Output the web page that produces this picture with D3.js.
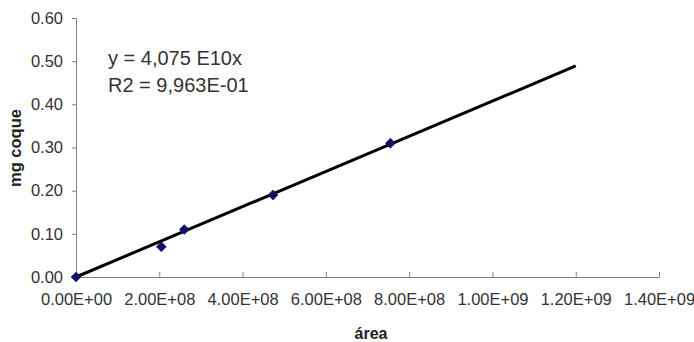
<!DOCTYPE html>
<html><head><meta charset="utf-8">
<script src="https://cdn.jsdelivr.net/npm/d3@7"></script>
<style>body{margin:0;background:#fff}text{font-family:"Liberation Sans",Arial,sans-serif}</style>
</head><body><svg id="c" width="694" height="342"></svg>
<script>
const areaValues = [0, 2.05e8, 2.6e8, 4.73e8, 7.55e8];
const mgValues = [0, 0.07, 0.11, 0.19, 0.31];
const xTicks = [0, 2e8, 4e8, 6e8, 8e8, 1e9, 1.2e9, 1.4e9];
const xTickLabels = ["0.00E+00","2.00E+08","4.00E+08","6.00E+08","8.00E+08","1.00E+09","1.20E+09","1.40E+09"];
const yTicks = [0, 0.1, 0.2, 0.3, 0.4, 0.5, 0.6];
const yTickLabels = ["0.00","0.10","0.20","0.30","0.40","0.50","0.60"];
const slope = 4.075e-10;
const trendRange = [0, 1.2e9];
const eqLines = ["y = 4,075 E10x", "R2 = 9,963E-01"];

const svg = d3.select("#c");
const x = d3.scaleLinear().domain([0, 1.4e9]).range([76, 659]);
const y = d3.scaleLinear().domain([0, 0.6]).range([277, 18]);
const narrow = "'Liberation Sans Narrow','Arial Narrow',sans-serif";

const xAxis = d3.axisBottom(x).tickValues(xTicks).tickSize(0).tickPadding(16)
  .tickFormat((d,i)=>xTickLabels[i]);
const gx = svg.append("g").attr("transform","translate(0,277)").call(xAxis);
gx.select(".domain").attr("stroke","#808080");
gx.selectAll(".tick").append("line").attr("y1",0).attr("y2",-5).attr("stroke","#808080");
gx.selectAll("text").attr("font-size",16.5).attr("fill","#333").style("font-family",narrow);

const yAxis = d3.axisLeft(y).tickValues(yTicks).tickSize(4).tickPadding(9)
  .tickFormat((d,i)=>yTickLabels[i]);
const gy = svg.append("g").attr("transform","translate(76,0)").call(yAxis);
gy.select(".domain").attr("stroke","#808080").attr("d","M-4,18.5H0.5V277.5");
gy.selectAll(".tick line").attr("stroke","#808080");
gy.selectAll("text").attr("font-size",16.5).attr("fill","#333").style("font-family",narrow);

svg.append("line")
  .attr("x1", x(trendRange[0])).attr("y1", y(slope*trendRange[0]))
  .attr("x2", x(trendRange[1])).attr("y2", y(slope*trendRange[1]))
  .attr("stroke","#000").attr("stroke-width",3);

const sym = d3.symbol().type(d3.symbolSquare).size(56);
svg.selectAll("path.pt").data(areaValues).enter().append("path").attr("class","pt")
  .attr("d", sym)
  .attr("transform",(d,i)=>`translate(${x(d)},${y(mgValues[i])}) rotate(45)`)
  .attr("fill","#10106a");

svg.selectAll("text.eq").data(eqLines).enter().append("text").attr("class","eq")
  .attr("x",108).attr("y",(d,i)=>65+i*27)
  .attr("font-size",20).attr("fill","#333").style("font-family",narrow)
  .text(d=>d);

svg.append("text").attr("transform","translate(21,148) rotate(-90)")
  .attr("text-anchor","middle").attr("font-size",16.5).attr("font-weight","bold")
  .attr("fill","#222").text("mg coque");
svg.append("text").attr("x",371).attr("y",339)
  .attr("text-anchor","middle").attr("font-size",16).attr("font-weight","bold")
  .attr("fill","#222").text("área");
</script></body></html>
